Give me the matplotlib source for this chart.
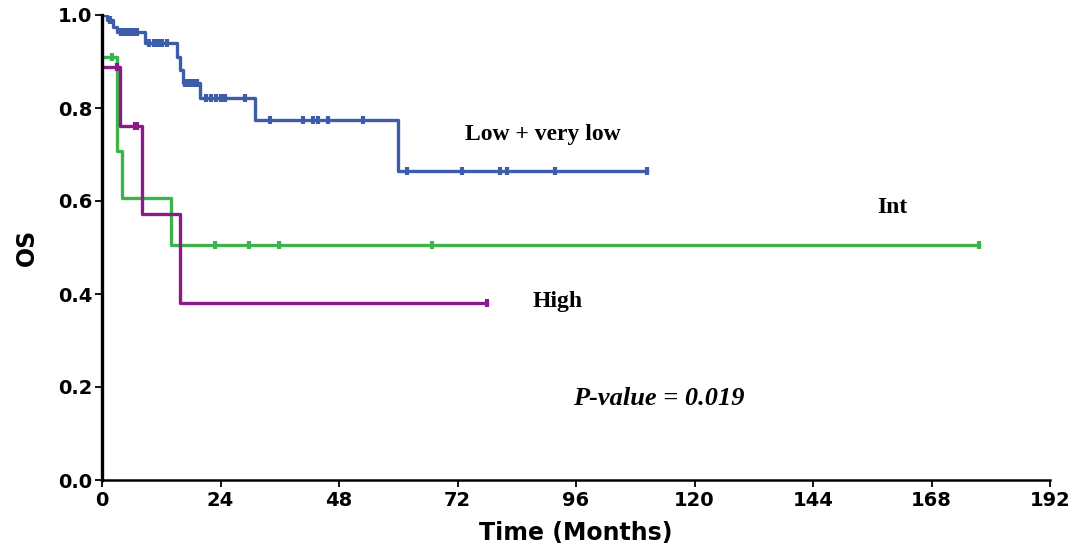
import numpy as np
import matplotlib
matplotlib.use("Agg")
import matplotlib.pyplot as plt

# --- survival data (months, KM estimate) ---
low_times = [0, 1.0, 2.2, 3.0, 8.7, 15.1, 15.8, 16.4, 19.8, 31.0, 60.0]
low_surv = [1.0, 0.989, 0.975, 0.964, 0.939, 0.910, 0.882, 0.853, 0.821, 0.774, 0.665]
low_end = 110.3
low_cens = [1.6, 3.8, 4.6, 5.4, 6.2, 7.0, 9.5, 10.5, 11.3, 12.2, 13.2,
            16.8, 17.6, 18.5, 19.2, 21.0, 22.0, 23.0, 24.0, 25.0, 29.0,
            34.0, 40.7, 42.7, 43.7, 45.7, 52.8,
            61.7, 72.9, 80.6, 82.0, 91.7, 110.3]

int_times = [0, 3.1, 4.0, 14.0]
int_surv = [0.909, 0.707, 0.606, 0.505]
int_end = 177.7
int_cens = [2.0, 22.9, 29.8, 35.8, 66.8, 177.7]

high_times = [0, 3.6, 8.0, 15.8]
high_surv = [0.889, 0.762, 0.571, 0.381]
high_end = 77.9
high_cens = [3.0, 6.6, 7.1, 77.9]

xticks = [0, 24, 48, 72, 96, 120, 144, 168, 192]
yticks = [0.0, 0.2, 0.4, 0.6, 0.8, 1.0]

BLUE = "#3d5dab"
GREEN = "#3cb44b"
PURPLE = "#8b1a8b"


def km_at(times, surv, t):
    i = np.searchsorted(times, t, side="right") - 1
    return np.asarray(surv)[i]


def draw_curve(ax, times, surv, end, cens, color):
    xs = np.r_[times, end]
    ys = np.r_[surv, surv[-1]]
    ax.step(xs, ys, where="post", color=color, lw=2.4, zorder=3)
    cy = [km_at(times, surv, c) for c in cens]
    ax.plot(cens, cy, ls="none", marker="|", ms=6, mew=3, color=color, zorder=4)


fig = plt.figure(figsize=(10.74, 5.45), dpi=100)
ax = fig.add_axes([102 / 1074, 1 - 480 / 545, 948 / 1074, 465 / 545])

draw_curve(ax, low_times, low_surv, low_end, low_cens, BLUE)
draw_curve(ax, int_times, int_surv, int_end, int_cens, GREEN)
draw_curve(ax, high_times, high_surv, high_end, high_cens, PURPLE)

ax.set_xlim(0, 192)
ax.set_ylim(0, 1.0)
ax.set_xticks(xticks)
ax.set_yticks(yticks)
ax.set_xticklabels([str(t) for t in xticks])
ax.set_yticklabels([f"{t:.1f}" for t in yticks])

for s in ["top", "right"]:
    ax.spines[s].set_visible(False)
ax.spines["left"].set_linewidth(2.4)
ax.spines["bottom"].set_linewidth(1.8)
ax.spines["left"].set_zorder(5)
ax.spines["bottom"].set_zorder(5)

ax.tick_params(axis="both", direction="out", length=5, width=1.3,
               labelsize=14, pad=2, colors="black")
ax.tick_params(axis="x", pad=3)
for lab in ax.get_xticklabels() + ax.get_yticklabels():
    lab.set_fontweight("bold")

ax.set_xlabel("Time (Months)", fontsize=17, fontweight="bold", labelpad=8)
ax.set_ylabel("OS", fontsize=17, fontweight="bold", labelpad=14)

serif = "Liberation Serif"
ax.text(89.3, 0.742, "Low + very low", fontsize=17, fontweight="bold",
        family=serif, ha="center", va="center")
ax.text(160.1, 0.587, "Int", fontsize=17, fontweight="bold",
        family=serif, ha="center", va="center")
ax.text(87.2, 0.383, "High", fontsize=17, fontweight="bold",
        family=serif, ha="left", va="center")
ax.text(112.8, 0.176, "P-value = 0.019", fontsize=19, fontweight="bold",
        style="italic", family=serif, ha="center", va="center")

fig.savefig("out.png", dpi=100)
